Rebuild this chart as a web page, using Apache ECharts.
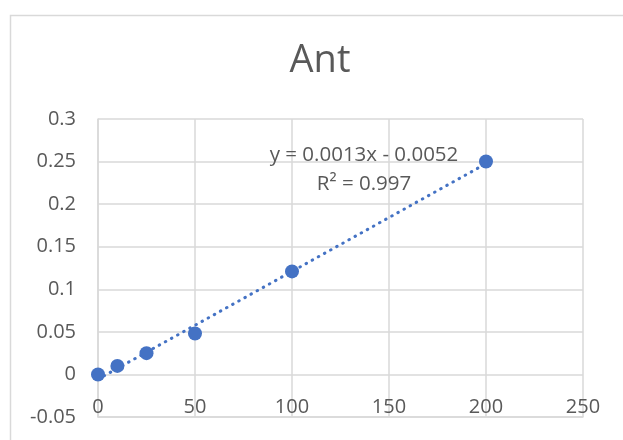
<!DOCTYPE html>
<html>
<head>
<meta charset="utf-8">
<script src="https://cdn.jsdelivr.net/npm/echarts@6/dist/echarts.min.js"></script>
<style>
html,body{margin:0;padding:0;background:#fff;}
#chart{width:623px;height:440px;}
</style>
</head>
<body>
<div id="chart"></div>
<script>
var chartTitle = 'Ant';
var xValues = [0, 10, 25, 50, 100, 200];
var yValues = [0, 0.01, 0.025, 0.048, 0.121, 0.25];
var equationText = 'y = 0.0013x - 0.0052';
var r2Text = 'R² = 0.997';

// least-squares trendline from the data
var n = xValues.length;
var mx = xValues.reduce(function(a,b){return a+b;},0)/n;
var my = yValues.reduce(function(a,b){return a+b;},0)/n;
var sxy = 0, sxx = 0;
for (var i = 0; i < n; i++) { sxy += (xValues[i]-mx)*(yValues[i]-my); sxx += (xValues[i]-mx)*(xValues[i]-mx); }
var slope = sxy/sxx, intercept = my - slope*mx;
var xMin = Math.min.apply(null, xValues), xMax = Math.max.apply(null, xValues);
var trend = [[xMin, slope*xMin+intercept], [xMax, slope*xMax+intercept]];

var pts = xValues.map(function(x,i){return [x, yValues[i]];});
var FONT = '"Open Sans", "Noto Sans", sans-serif';
var chart = echarts.init(document.getElementById('chart'), null, {renderer:'canvas'});
chart.setOption({
  animation: false,
  backgroundColor: '#fff',
  grid: {left: 98, top: 119, right: 40, bottom: 23, containLabel: false, outerBoundsMode: 'none'},
  xAxis: {
    type: 'value', min: 0, max: 250, interval: 50,
    axisLine: {show: true, onZero: false, lineStyle: {color: '#d9d9d9', width: 1.5}},
    axisTick: {show: false},
    axisLabel: {inside: false, margin: -20, hideOverlap: false,
      fontFamily: FONT, fontSize: 20, color: '#595959'},
    splitLine: {show: true, lineStyle: {color: '#d9d9d9', width: 1.5}}
  },
  yAxis: {
    type: 'value', min: -0.05, max: 0.3, interval: 0.05,
    axisLine: {show: true, lineStyle: {color: '#d9d9d9', width: 1.5}},
    axisTick: {show: false},
    axisLabel: {margin: 22, fontFamily: FONT, fontSize: 20, color: '#595959',
      formatter: function(v){ return String(parseFloat(v.toFixed(2))); }},
    splitLine: {show: true, lineStyle: {color: '#d9d9d9', width: 1.5}}
  },
  graphic: [
    {type: 'rect', left: 8, top: 13, z: -10, silent: true,
     shape: {width: 700, height: 500}, style: {fill: 'none', stroke: '#d9d9d9', lineWidth: 1.5}},
    {type: 'text', x: 320, y: 61, z: 10,
     style: {text: chartTitle, textAlign: 'center', textVerticalAlign: 'middle', font: '38px ' + FONT, fill: '#595959'}},
    {type: 'text', x: 364, y: 155, z: 10,
     style: {text: equationText, textAlign: 'center', textVerticalAlign: 'middle', font: '20.5px ' + FONT, fill: '#595959'}},
    {type: 'text', x: 364, y: 184, z: 10,
     style: {text: r2Text, textAlign: 'center', textVerticalAlign: 'middle', font: '20.5px ' + FONT, fill: '#595959'}}
  ],
  series: [
    {
      type: 'line', data: trend, symbol: 'none', z: 2, silent: true,
      lineStyle: {color: '#4472C4', width: 3, type: [0.5, 6.5], cap: 'round'}
    },
    {
      type: 'scatter', data: pts, symbol: 'circle', symbolSize: 14, z: 3,
      itemStyle: {color: '#4472C4', opacity: 1}
    }
  ]
});
</script>
</body>
</html>
